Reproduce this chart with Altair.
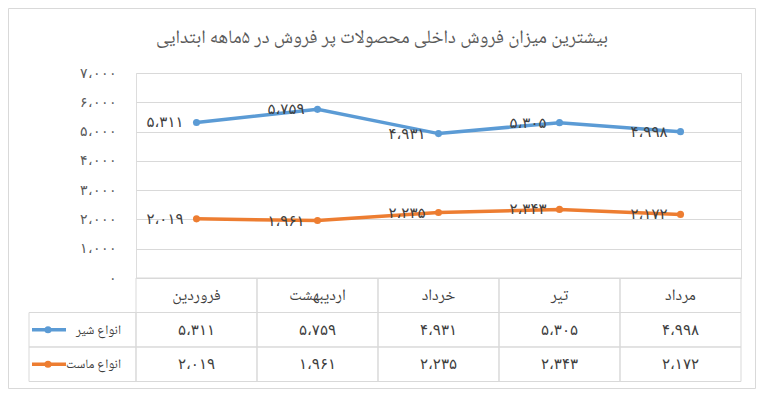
import altair as alt
import pandas as pd

# ---------------- data ----------------
months = ["فروردین", "اردیبهشت", "خرداد", "تیر", "مرداد"]
series_names = ["انواع شیر", "انواع ماست"]
milk = [5311, 5759, 4931, 5305, 4998]
yogurt = [2019, 1961, 2235, 2343, 2172]
y_ticks = [0, 1000, 2000, 3000, 4000, 5000, 6000, 7000]
title_text = "بیشترین میزان فروش داخلی محصولات پر فروش در ۵ماهه ابتدایی"
colors = ["#5B9BD5", "#ED7D31"]

FA = str.maketrans("0123456789,", "۰۱۲۳۴۵۶۷۸۹،")


def fa(n):
    return f"{n:,}".translate(FA)


rows = []
for s, vals in zip(series_names, [milk, yogurt]):
    for m, v in zip(months, vals):
        rows.append({"month": m, "series": s, "value": v, "label": fa(v)})
df = pd.DataFrame(rows)
mdf = pd.DataFrame({"month": months})
one = pd.DataFrame({"k": [0]})

# ---------------- layout ----------------
W, H = 605, 205
FONT = "Noto Naskh Arabic, Noto Sans Arabic, Vazirmatn, DejaVu Sans"
NUMFONT = "DejaVu Sans"
GRID = "#d9d9d9"
TXT = "#404040"
HDR_Y0, ROW_H = 205, 34.5
LEG_X0 = -107

label_expr = " : ".join(
    f"datum.value == {t} ? '{fa(t)}'" for t in y_ticks
) + " : ''"

X = alt.X("month:N", sort=months,
          scale=alt.Scale(type="band", domain=months, paddingInner=0, paddingOuter=0),
          axis=None)
Y = alt.Y("value:Q", scale=alt.Scale(domain=[0, 7000], nice=False, zero=True),
          axis=alt.Axis(values=y_ticks, labelExpr=label_expr, grid=True, gridColor=GRID,
                        domain=False, ticks=False, labelColor="#595959", labelFontSize=14,
                        labelFont=NUMFONT, labelFontWeight=300, labelPadding=20, title=None))
C = alt.Color("series:N", scale=alt.Scale(domain=series_names, range=colors), legend=None)

base = alt.Chart(df)
lines = base.mark_line(strokeWidth=3.5).encode(x=X, y=Y, color=C, detail="series:N")
points = base.mark_point(filled=True, size=50, opacity=1).encode(x=X, y=Y, color=C)
labels = base.mark_text(align="right", baseline="middle", dx=-13, fontSize=15,
                        font=NUMFONT, color=TXT).encode(x=X, y=Y, text="label:N")

layers = [lines, points, labels]

# table header
layers.append(alt.Chart(mdf).mark_rect(fillOpacity=0, stroke=GRID, strokeWidth=1).encode(
    x=X, y=alt.value(HDR_Y0), y2=alt.value(HDR_Y0 + ROW_H)))
layers.append(alt.Chart(mdf).mark_text(fontSize=16, font=FONT, color=TXT, baseline="middle").encode(
    x=X, y=alt.value(HDR_Y0 + ROW_H / 2), text="month:N"))

for i, s in enumerate(series_names):
    y0 = HDR_Y0 + ROW_H * (i + 1)
    sdf = df[df.series == s]
    layers.append(alt.Chart(sdf).mark_rect(fillOpacity=0, stroke=GRID, strokeWidth=1).encode(
        x=X, y=alt.value(y0), y2=alt.value(y0 + ROW_H)))
    layers.append(alt.Chart(sdf).mark_text(fontSize=15, font=NUMFONT, color=TXT, baseline="middle").encode(
        x=X, y=alt.value(y0 + ROW_H / 2), text="label:N"))
    # legend cell
    layers.append(alt.Chart(one).mark_rect(fillOpacity=0, stroke=GRID, strokeWidth=1).encode(
        x=alt.value(LEG_X0), x2=alt.value(0), y=alt.value(y0), y2=alt.value(y0 + ROW_H)))
    layers.append(alt.Chart(one).mark_rule(strokeWidth=3.5, color=colors[i]).encode(
        x=alt.value(LEG_X0 + 3), x2=alt.value(LEG_X0 + 37), y=alt.value(y0 + ROW_H / 2)))
    layers.append(alt.Chart(one).mark_point(filled=True, size=50, opacity=1, color=colors[i]).encode(
        x=alt.value(LEG_X0 + 19), y=alt.value(y0 + ROW_H / 2)))
    layers.append(alt.Chart(one).mark_text(align="right", baseline="middle", fontSize=13,
                                           font=FONT, color=TXT).encode(
        x=alt.value(-15), y=alt.value(y0 + ROW_H / 2), text=alt.value(s)))

# outer border and title
layers.append(alt.Chart(one).mark_rect(fillOpacity=0, stroke=GRID, strokeWidth=1).encode(
    x=alt.value(-127.5), x2=alt.value(619.5), y=alt.value(-64.5), y2=alt.value(315.5)))
layers.append(alt.Chart(one).mark_text(fontSize=19, font=FONT, color="#595959",
                                       baseline="middle", align="center").encode(
    x=alt.value(246), y=alt.value(-36), text=alt.value(title_text)))

chart = alt.layer(*layers).properties(
    width=W, height=H,
    autosize=alt.AutoSizeParams(type="none"),
    padding={"left": 128, "top": 65, "right": 15, "bottom": 112},
).configure_view(stroke=None).configure(background="white")

chart.save("out.html", embed_options={"renderer": "svg", "actions": False})
